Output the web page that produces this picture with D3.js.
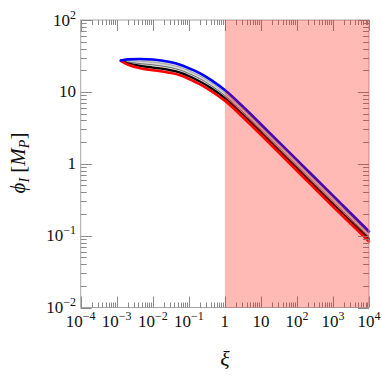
<!DOCTYPE html>
<html>
<head>
<meta charset="utf-8">
<script src="https://cdn.jsdelivr.net/npm/d3@7"></script>
<style>
  body { margin: 0; background: #fff; }
  svg text { font-family: "Liberation Serif", "Times New Roman", Times, serif; fill: #111; }
</style>
</head>
<body>
<script>
// values
const xi    = [0.0013, 0.002, 0.0045, 0.01, 0.03, 0.06, 0.13, 0.2, 0.4, 1, 3, 10, 100, 1000, 10000];
const blue  = [27.4, 28.3, 28.7, 28.2, 26.0, 23.7, 20.2, 18.2, 14.8, 10.6, 6.4, 3.55, 1.13, 0.36, 0.114];
const gray2 = [27.3, 27.2, 26.7, 25.9, 23.9, 21.8, 18.5, 16.7, 13.6, 9.7, 5.9, 3.26, 1.04, 0.33, 0.105];
const gray1 = [27.2, 26.1, 24.7, 23.8, 21.9, 20.0, 17.0, 15.3, 12.4, 8.9, 5.4, 3.0, 0.95, 0.30, 0.097];
const black = [27.1, 25.0, 23.0, 21.8, 20.1, 18.4, 15.6, 14.0, 11.4, 8.2, 4.95, 2.75, 0.87, 0.276, 0.090];
const red   = [27.0, 24.0, 21.3, 20.0, 18.4, 16.9, 14.3, 12.8, 10.4, 7.5, 4.55, 2.53, 0.80, 0.253, 0.083];

const shadeFrom = 1, shadeTo = 10000;

const xMajor = [1e-4, 1e-3, 1e-2, 1e-1, 1, 10, 100, 1000, 10000];
const xLabels = [["10","\u22124"],["10","\u22123"],["10","\u22122"],["10","\u22121"],["1",""],["10",""],["10","2"],["10","3"],["10","4"]];
const yMajor = [0.01, 0.1, 1, 10, 100];
const yLabels = [["10","\u22122"],["10","\u22121"],["1",""],["10",""],["10","2"]];

const W = 382, H = 380;
const L = 80.7, R = 369, T = 20, B = 307.5;

const svg = d3.select("body").append("svg")
  .attr("width", W).attr("height", H)
  .attr("font-family", "Liberation Serif, Times New Roman, serif");

const x = d3.scaleLog().domain([1e-4, 1e4]).range([L, R]);
const y = d3.scaleLog().domain([1e-2, 1e2]).range([B, T]);

function minors(majors) {
  const out = [];
  majors.slice(0, -1).forEach(m => { for (let k = 2; k <= 9; k++) out.push(m * k); });
  return out;
}
const xMinor = minors(xMajor), yMinor = minors(yMajor);

const plot = svg.append("g");
const curve = d3.curveCatmullRom.alpha(0.5);

// band between blue and red
const rows = xi.map((v, i) => ({x: v, b: blue[i], r: red[i]}));
plot.append("path")
  .datum(rows)
  .attr("fill", "#d6d6d6")
  .attr("d", d3.area().curve(curve)
    .x(d => x(d.x)).y0(d => y(d.r)).y1(d => y(d.b)));

const line = d3.line().curve(curve).x(d => x(d[0])).y(d => y(d[1]));
const series = [
  {v: gray2, c: "#a8a8a8", w: 1},
  {v: gray1, c: "#6e6e6e", w: 1},
  {v: black, c: "#000", w: 2.2},
  {v: red,   c: "#f00", w: 2.6},
  {v: blue,  c: "#00f", w: 2.6}
];
series.forEach(s => {
  plot.append("path")
    .datum(xi.map((v, i) => [v, s.v[i]]))
    .attr("fill", "none")
    .attr("stroke", s.c)
    .attr("stroke-width", s.w)
    .attr("stroke-linejoin", "round")
    .attr("stroke-linecap", "round")
    .attr("d", line);
});

// frame and ticks
const axes = svg.append("g").attr("stroke", "#8a8a8a").attr("fill", "none");
axes.append("rect").attr("x", L).attr("y", T).attr("width", R - L).attr("height", B - T)
  .attr("stroke", "#a6a6a6");

function ticks(vals, len, scale, horiz) {
  vals.forEach(v => {
    const p = Math.round(scale(v)) + 0.5;
    if (horiz) {
      axes.append("line").attr("x1", p).attr("x2", p).attr("y1", B).attr("y2", B - len);
      axes.append("line").attr("x1", p).attr("x2", p).attr("y1", T).attr("y2", T + len);
    } else {
      axes.append("line").attr("y1", p).attr("y2", p).attr("x1", L).attr("x2", L + len);
      axes.append("line").attr("y1", p).attr("y2", p).attr("x1", R).attr("x2", R - len);
    }
  });
}
ticks(xMajor, 11, x, true);
ticks(xMinor, 5, x, true);
ticks(yMajor, 11, y, false);
ticks(yMinor, 6, y, false);

// shaded region on top
svg.append("rect")
  .attr("x", x(shadeFrom)).attr("y", T)
  .attr("width", x(shadeTo) - x(shadeFrom)).attr("height", B - T)
  .attr("fill", "#ff1000").attr("opacity", 0.29);

// tick labels
function label(g, parts) {
  g.append("tspan").text(parts[0]);
  if (parts[1]) g.append("tspan").attr("dy", -7).attr("font-size", 12).text(parts[1]);
}
xMajor.forEach((v, i) => {
  const t = svg.append("text").attr("x", x(v)).attr("y", 327)
    .attr("text-anchor", "middle").attr("font-size", 17);
  label(t, xLabels[i]);
});
yMajor.forEach((v, i) => {
  const t = svg.append("text").attr("x", 76).attr("y", y(v) + 5.5)
    .attr("text-anchor", "end").attr("font-size", 17);
  label(t, yLabels[i]);
});

// axis titles
svg.append("text").attr("x", x(1)).attr("y", 366)
  .attr("text-anchor", "middle").attr("font-size", 22).attr("font-style", "italic").text("\u03be");

const yt = svg.append("text")
  .attr("transform", "translate(25,163) rotate(-90)")
  .attr("text-anchor", "middle").attr("font-size", 21);
yt.append("tspan").attr("font-style", "italic").text("\u03d5");
yt.append("tspan").attr("font-style", "italic").attr("font-size", 14).attr("dy", 4).text("I");
yt.append("tspan").attr("dy", -4).text(" [");
yt.append("tspan").attr("font-style", "italic").text("M");
yt.append("tspan").attr("font-style", "italic").attr("font-size", 14).attr("dy", 4).text("P");
yt.append("tspan").attr("dy", -4).text("]");
</script>
</body>
</html>
